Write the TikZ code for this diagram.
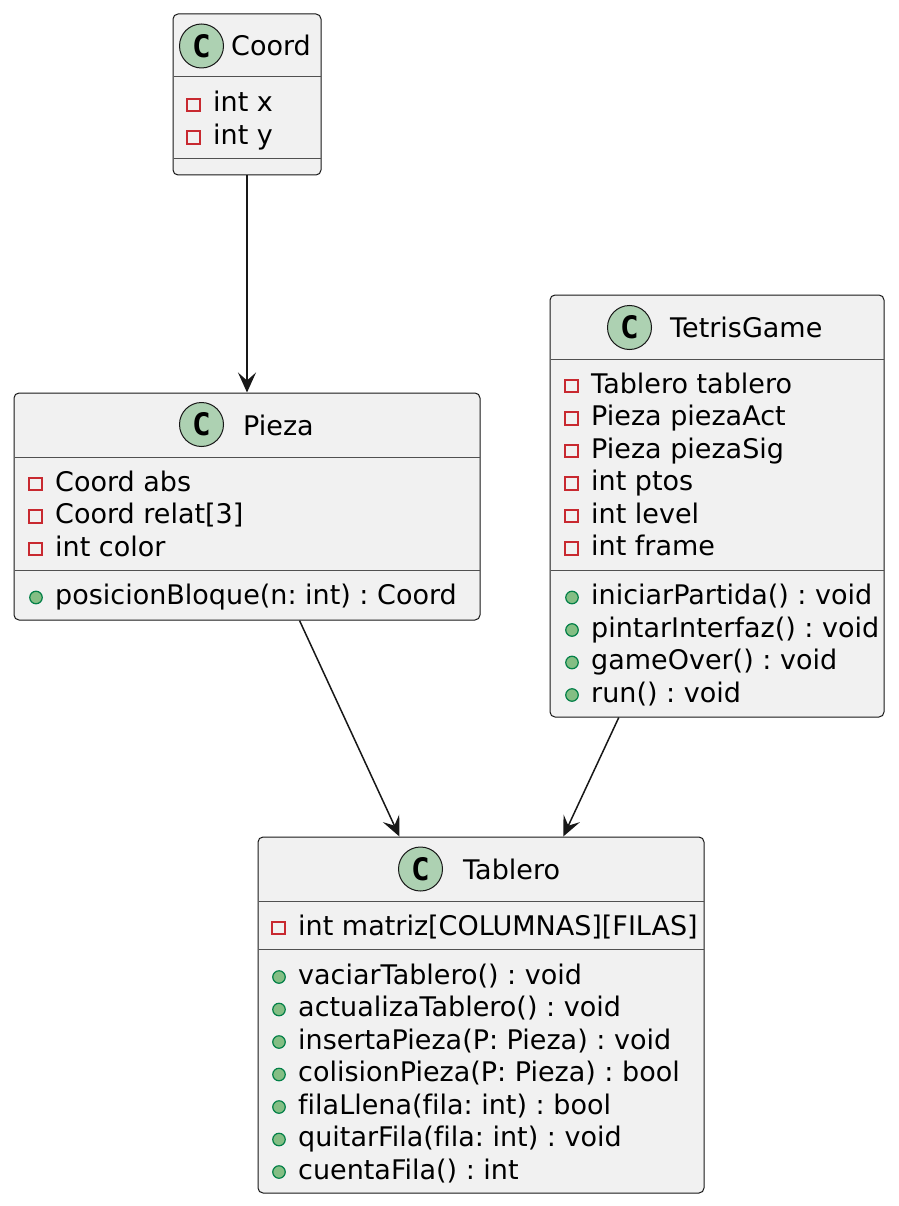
\documentclass[tikz,border=0pt]{standalone}
\usepackage{fontspec}
\setmainfont{DejaVu Sans}[Ligatures=NoCommon]
\newfontfamily\cfont{DejaVu Sans Mono}
\usetikzlibrary{arrows.meta}
\frenchspacing
\definecolor{boxfill}{HTML}{F1F1F1}
\definecolor{boxline}{HTML}{181818}
\definecolor{sepcol}{HTML}{505050}
\definecolor{circfill}{HTML}{ADD1B2}
\definecolor{privred}{HTML}{C82930}
\definecolor{pubfill}{HTML}{84BE84}
\definecolor{publine}{HTML}{038048}
\newcommand\mypriv[4]{%
  \node[privicon] (#1i) at (#2+21.5,#3-7) {};
  \node[txt] (#1) at (#2+41,#3) {#4};}
\newcommand\mypub[4]{%
  \node[pubicon] (#1i) at (#2+22,#3-7) {};
  \node[txt] (#1) at (#2+41,#3) {#4};}
\begin{document}
\begin{tikzpicture}[x=1pt,y=-1pt,
  font=\fontsize{27}{33}\selectfont,
  classbox/.style={draw=boxline, fill=boxfill, rounded corners=5pt, line width=1pt, inner sep=0pt, rectangle},
  txt/.style={anchor=base west, inner sep=0pt, text=black},
  sepl/.style={draw=sepcol, line width=1pt},
  cicon/.style={circle, draw=boxline, fill=circfill, line width=1pt, minimum size=44pt, inner sep=0pt, font=\cfont\bfseries\fontsize{31}{31}\selectfont},
  privicon/.style={rectangle, draw=privred, line width=1.7pt, minimum size=12.5pt, inner sep=0pt},
  pubicon/.style={circle, draw=publine, fill=pubfill, line width=1.2pt, minimum size=12.5pt, inner sep=0pt},
  assoc/.style={draw=boxline, line width=1.5pt, -{Stealth[length=20pt,width=18pt,inset=8pt]}}]
\fill[white] (0,0) rectangle (898,1206);
\useasboundingbox (0,0) rectangle (898,1206);

% Coord
\node[classbox, minimum width=148pt, minimum height=161pt] (coord) at (247,94.5) {};
\node[cicon] (coordc) at (201.5,46) {C};
\node[txt] (coordt) at (231,56) {Coord};
\draw[sepl] (173.5,77) -- (320.5,77);
\mypriv{ca1}{172}{112}{int x}
\mypriv{ca2}{172}{144.5}{int y}
\draw[sepl] (173.5,159) -- (320.5,159);

% Pieza
\node[classbox, minimum width=466pt, minimum height=227pt] (pieza) at (247,506.5) {};
\node[cicon] (piezac) at (201.5,424.5) {C};
\node[txt] (piezat) at (243,435) {Pieza};
\draw[sepl] (14.5,457) -- (479.5,457);
\mypriv{pa1}{14}{491}{Coord abs}
\mypriv{pa2}{14}{523.5}{Coord relat[3]}
\mypriv{pa3}{14}{556}{int color}
\draw[sepl] (14.5,570.5) -- (479.5,570.5);
\mypub{pm1}{14}{604.5}{posicionBloque(n: int) : Coord}

% TetrisGame
\node[classbox, minimum width=334pt, minimum height=422pt] (tetris) at (717,506) {};
\node[cicon] (tetrisc) at (629.5,327.5) {C};
\node[txt] (tetrist) at (670,337) {TetrisGame};
\draw[sepl] (550.5,359) -- (883.5,359);
\mypriv{ta1}{550}{393}{Tablero tablero}
\mypriv{ta2}{550}{425.5}{Pieza piezaAct}
\mypriv{ta3}{550}{458}{Pieza piezaSig}
\mypriv{ta4}{550}{490.5}{int ptos}
\mypriv{ta5}{550}{523}{int level}
\mypriv{ta6}{550}{555.5}{int frame}
\draw[sepl] (550.5,570.5) -- (883.5,570.5);
\mypub{tm1}{550}{604.5}{iniciarPartida() : void}
\mypub{tm2}{550}{637}{pintarInterfaz() : void}
\mypub{tm3}{550}{669.5}{gameOver() : void}
\mypub{tm4}{550}{702}{run() : void}

% Tablero
\node[classbox, minimum width=446pt, minimum height=356pt] (tablero) at (481,1015) {};
\node[cicon] (tableroc) at (420.5,869) {C};
\node[txt] (tablerot) at (463,879) {Tablero};
\draw[sepl] (258.5,901) -- (703.5,901);
\mypriv{ba1}{257}{935}{int matriz[COLUMNAS][FILAS]}
\draw[sepl] (258.5,949.5) -- (703.5,949.5);
\mypub{bm1}{257}{984}{vaciarTablero() : void}
\mypub{bm2}{257}{1016.5}{actualizaTablero() : void}
\mypub{bm3}{257}{1049}{insertaPieza(P: Pieza) : void}
\mypub{bm4}{257}{1081.5}{colisionPieza(P: Pieza) : bool}
\mypub{bm5}{257}{1114}{filaLlena(fila: int) : bool}
\mypub{bm6}{257}{1146.5}{quitarFila(fila: int) : void}
\mypub{bm7}{257}{1179}{cuentaFila() : int}

% connectors
\draw[assoc] (coord) -- (pieza);
\draw[assoc] (pieza) -- (tablero);
\draw[assoc] (tetris) -- (tablero);
\end{tikzpicture}
\end{document}
